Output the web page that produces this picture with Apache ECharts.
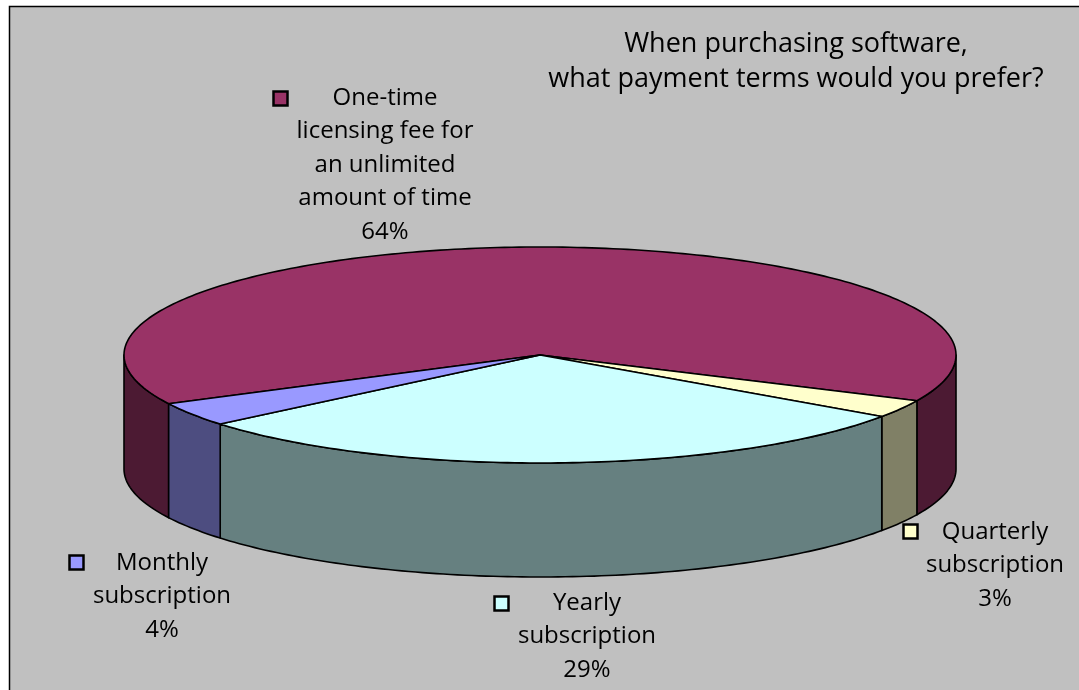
<!DOCTYPE html>
<html>
<head>
<meta charset="utf-8">
<script src="https://cdn.jsdelivr.net/npm/echarts@6/dist/echarts.min.js"></script>
<style>
html,body{margin:0;padding:0;background:#ffffff;}
#chart{width:1079px;height:690px;}
</style>
</head>
<body>
<div id="chart"></div>
<script>
// ---- data ----
const categories = ['One-time licensing fee for an unlimited amount of time', 'Quarterly subscription', 'Yearly subscription', 'Monthly subscription'];
const labelLines = [
  ['One-time', 'licensing fee for', 'an unlimited', 'amount of time'],
  ['Quarterly', 'subscription'],
  ['Yearly', 'subscription'],
  ['Monthly', 'subscription']
];
const values = [64.4, 2.7, 29.3, 3.6];
const titleLines = ['When purchasing software,', 'what payment terms would you prefer?'];

// ---- styles ----
const topColors = ['#993366', '#FFFFCC', '#CCFFFF', '#9999FF'];
const sideColors = ['#4C1A33', '#808066', '#668080', '#4D4D80'];
const FONT = '"Open Sans", "Noto Sans", sans-serif';
const FS = 24;
const TFS = 27;
const LH = 33.5;

// pie geometry (layout)
const PIE = { cx: 540, cy: 355, rx: 416, ry: 108, depth: 114, start: 153.2 };
// label anchors (layout): key square position and text centre of first line
const labelPos = [
  { key: [272, 90], x: 385, y: 98 },
  { key: [902, 523], x: 995, y: 532 },
  { key: [493, 595], x: 587, y: 603 },
  { key: [68, 554], x: 162, y: 563 }
];

const total = values.reduce((a, b) => a + b, 0);

function pt(t, dy) {
  const r = t * Math.PI / 180;
  return [PIE.cx + PIE.rx * Math.cos(r), PIE.cy + PIE.ry * Math.sin(r) + (dy || 0)];
}
function arcPts(a1, a2, dy) {
  const pts = [];
  const n = Math.max(2, Math.ceil(Math.abs(a2 - a1) / 1));
  for (let i = 0; i <= n; i++) pts.push(pt(a1 + (a2 - a1) * i / n, dy));
  return pts;
}

function renderItem(params, api) {
  const idx = params.dataIndex;
  let before = 0;
  for (let i = 0; i < idx; i++) before += values[i];
  const a1 = PIE.start + before / total * 360;
  const a2 = a1 + api.value(0) / total * 360;
  const children = [];
  // front outer walls: visible where angle in [0,180] (mod 360)
  [[0, 180], [360, 540]].forEach(function (rng) {
    const s = Math.max(a1, rng[0]);
    const e = Math.min(a2, rng[1]);
    if (e > s) {
      const top = arcPts(s, e, 0);
      const bot = arcPts(e, s, PIE.depth);
      children.push({
        type: 'polygon',
        shape: { points: top.concat(bot) },
        style: { fill: sideColors[idx], stroke: '#000', lineWidth: 1.6, lineJoin: 'round' }
      });
    }
  });
  // top face
  const topPts = [[PIE.cx, PIE.cy]].concat(arcPts(a1, a2, 0));
  children.push({
    type: 'polygon',
    shape: { points: topPts },
    style: { fill: topColors[idx], stroke: '#000', lineWidth: 1.6, lineJoin: 'round' }
  });
  return { type: 'group', children: children };
}

const graphics = [];
// chart area frame
graphics.push({
  type: 'rect', z: -10,
  shape: { x: 9.5, y: 6.5, width: 1100, height: 700 },
  style: { fill: '#C0C0C0', stroke: '#000', lineWidth: 1.5 }
});
// title
graphics.push({
  type: 'text', z: 10,
  x: 796, y: 44 - 35 / 2,
  style: { text: titleLines.join('\n'), font: TFS + 'px ' + FONT, fill: '#000', align: 'center', verticalAlign: 'top', lineHeight: 35 }
});
// data labels
values.forEach(function (v, i) {
  const p = labelPos[i];
  graphics.push({
    type: 'rect', z: 10,
    shape: { x: p.key[0] + 1.5, y: p.key[1] + 1.5, width: 14, height: 14 },
    style: { fill: topColors[i], stroke: '#000', lineWidth: 2.5 }
  });
  graphics.push({
    type: 'text', z: 10,
    x: p.x, y: p.y - LH / 2,
    style: {
      text: labelLines[i].concat([Math.round(v) + '%']).join('\n'),
      font: FS + 'px ' + FONT, fill: '#000', align: 'center', verticalAlign: 'top', lineHeight: LH
    }
  });
});

const chart = echarts.init(document.getElementById('chart'), null, { renderer: 'canvas' });
chart.setOption({
  animation: false,
  backgroundColor: '#ffffff',
  graphic: graphics,
  series: [{
    type: 'custom',
    coordinateSystem: 'none',
    renderItem: renderItem,
    data: values.map(function (v, i) { return { name: categories[i], value: [v] }; })
  }]
});
</script>
</body>
</html>
